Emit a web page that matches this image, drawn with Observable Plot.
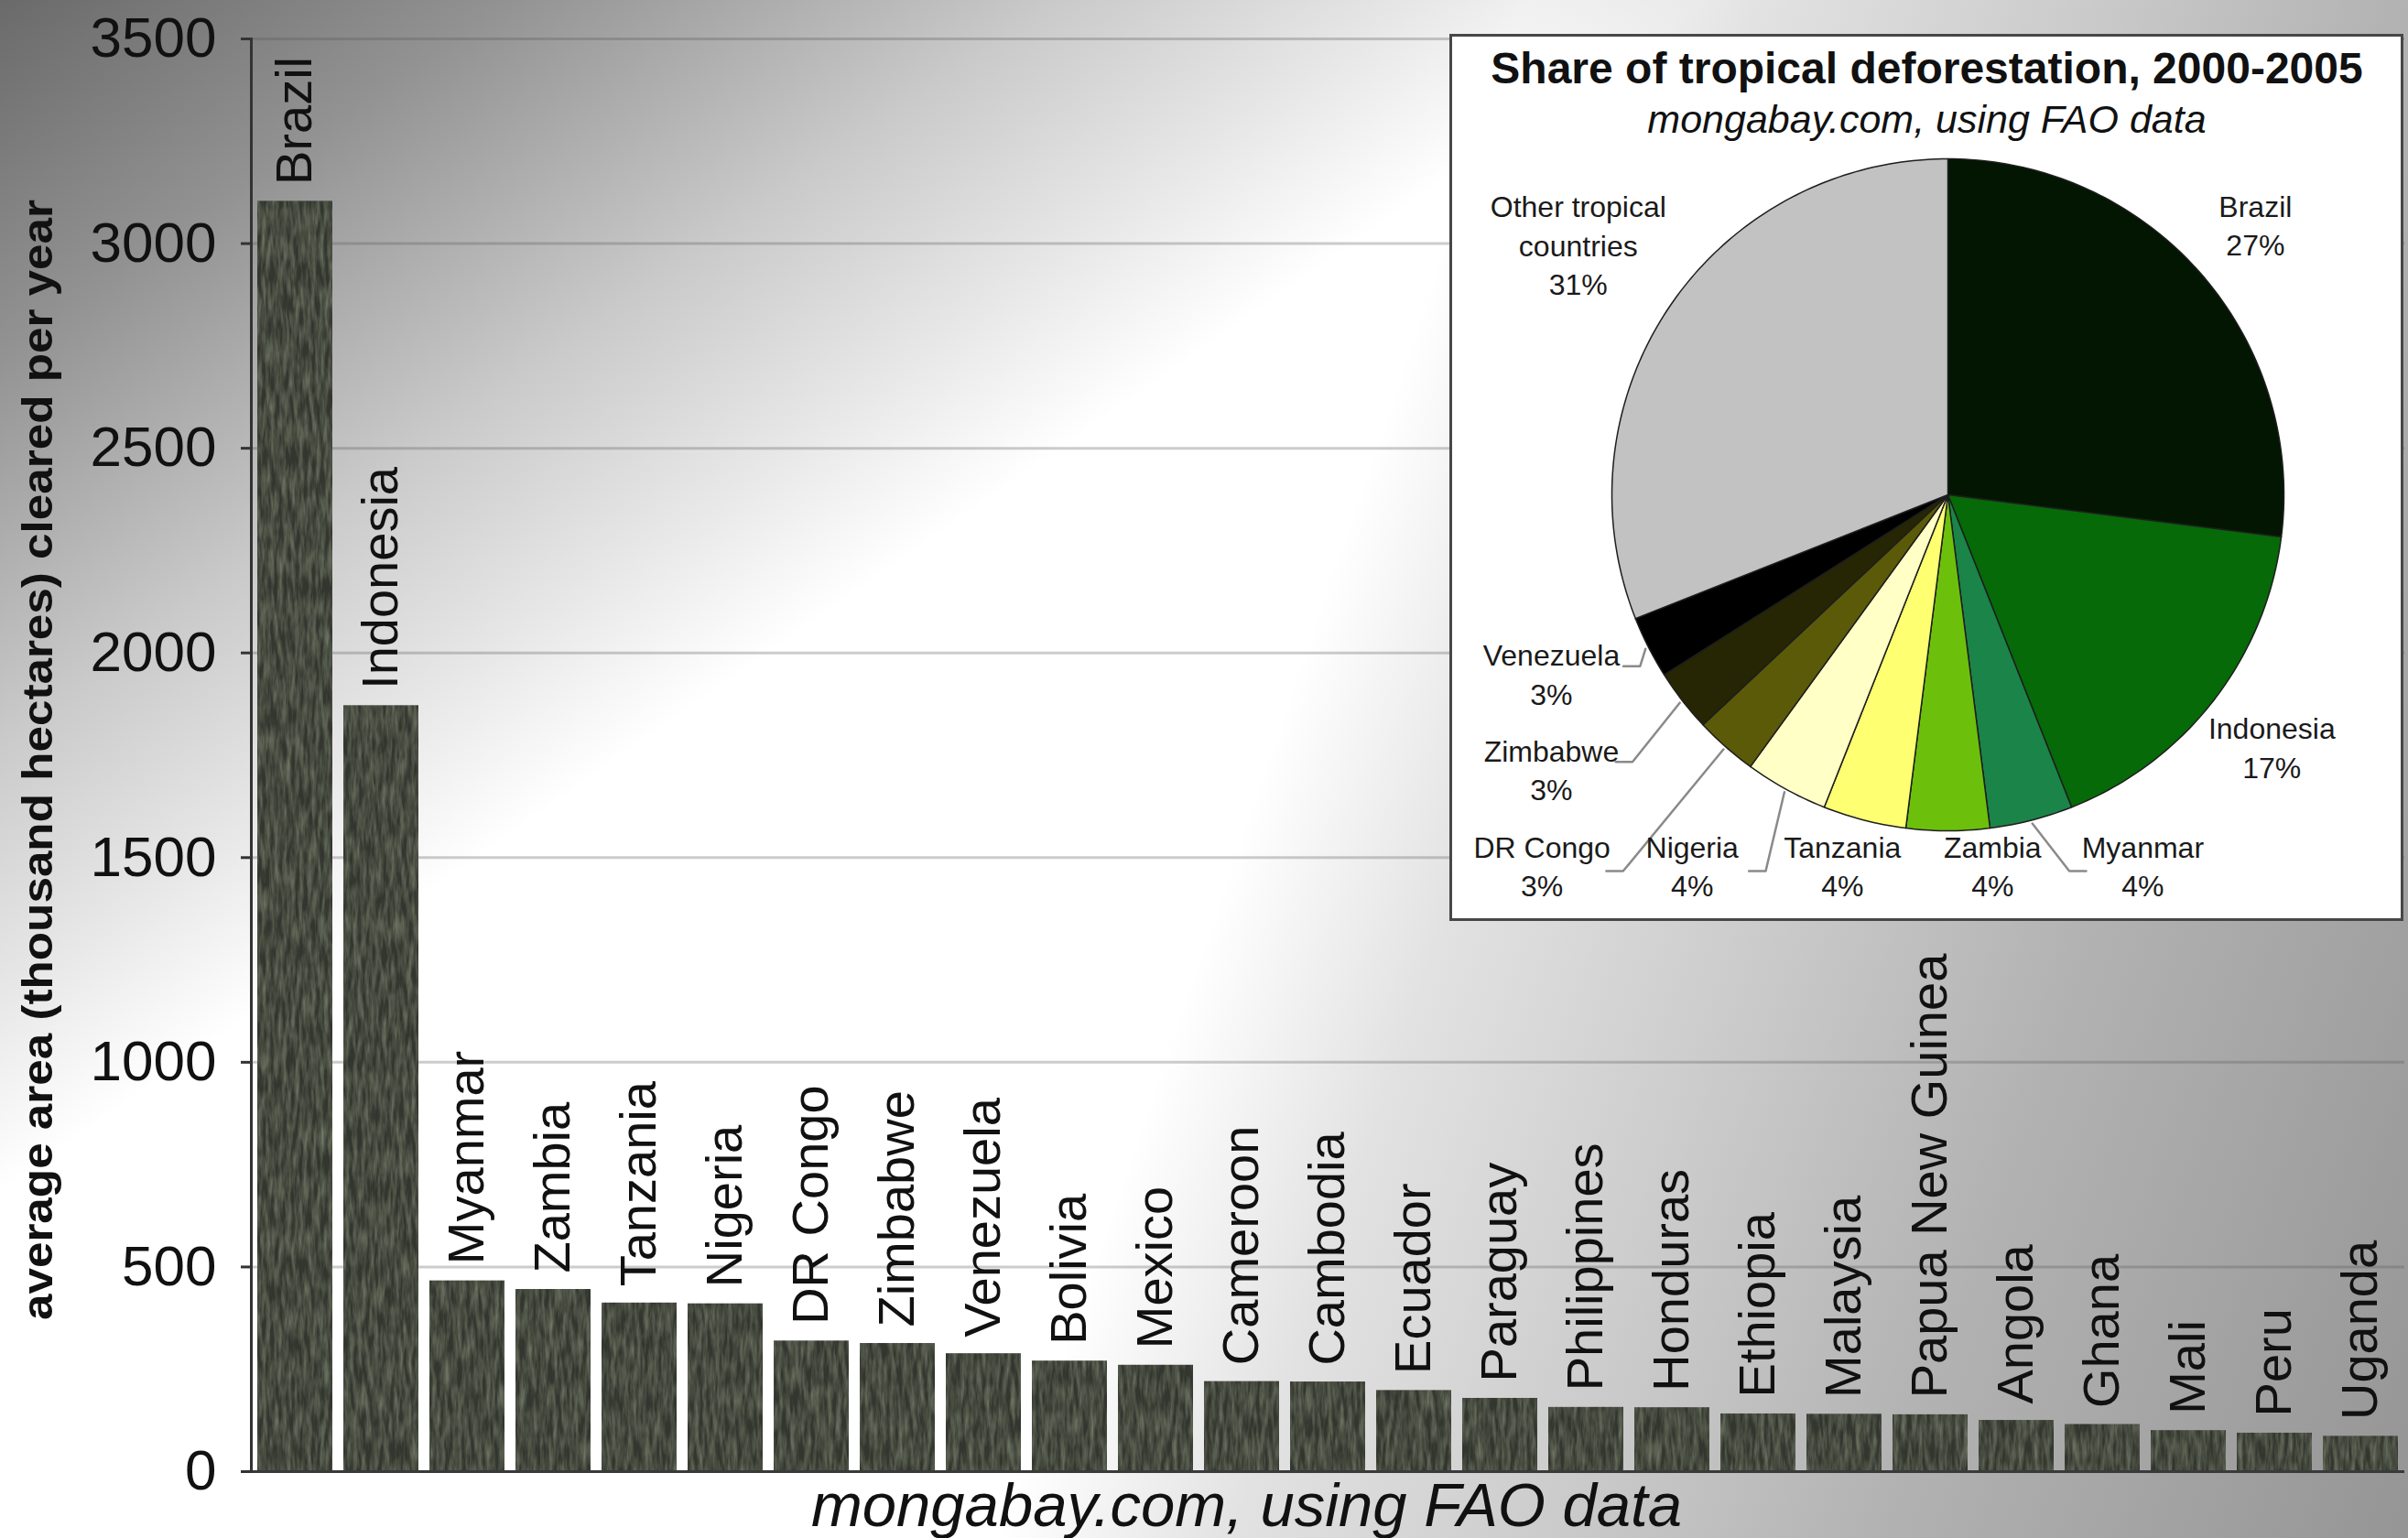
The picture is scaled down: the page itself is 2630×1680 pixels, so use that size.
<!DOCTYPE html>
<html><head><meta charset="utf-8">
<script src="https://cdn.jsdelivr.net/npm/d3@7"></script>
<script src="https://cdn.jsdelivr.net/npm/@observablehq/plot@0.6"></script>
<style>
html,body{margin:0;padding:0;background:#fff;}
#wrap{position:relative;width:2630px;height:1680px;overflow:hidden;font-family:"Liberation Sans",Arial,sans-serif;}
#inset{position:absolute;left:1583px;top:37px;width:1036px;height:963px;border:3px solid #474747;background:#fff;}
#inset svg, #main svg{display:block;}
</style></head><body>
<svg width="0" height="0" style="position:absolute">
<defs>
<filter id="bark" x="0" y="0" width="1" height="1" color-interpolation-filters="sRGB">
  <feTurbulence type="fractalNoise" baseFrequency="0.22 0.035" numOctaves="3" seed="7" result="noise"/>
  <feColorMatrix in="noise" type="matrix" values="0.8 0 0 0 -0.25  0.86 0 0 0 -0.26  0.72 0 0 0 -0.23  0 0 0 0 1" result="tint"/>
  <feComposite in="SourceGraphic" in2="tint" operator="arithmetic" k1="0" k2="1" k3="0.5" k4="0" result="sum"/>
  <feComposite in="sum" in2="SourceAlpha" operator="in"/>
</filter>
</defs></svg>
<div id="wrap"><div id="main"></div><div id="inset"></div></div>
<script>
// ---- data ----
const countries = ["Brazil","Indonesia","Myanmar","Zambia","Tanzania","Nigeria","DR Congo","Zimbabwe","Venezuela","Bolivia","Mexico","Cameroon","Cambodia","Ecuador","Paraguay","Philippines","Honduras","Ethiopia","Malaysia","Papua New Guinea","Angola","Ghana","Mali","Peru","Uganda"];
const cleared = [3103,1871,466,445,412,410,319,313,288,270,260,220,219,198,179,157,156,141,140,139,125,115,100,94,86];
const yTicks = [0,500,1000,1500,2000,2500,3000,3500];
const yTitle = "average area (thousand hectares) cleared per year";
const caption = "mongabay.com, using FAO data";

const pieTitle = "Share of tropical deforestation, 2000-2005";
const pieSubtitle = "mongabay.com, using FAO data";
const pieNames = ["Brazil","Indonesia","Myanmar","Zambia","Tanzania","Nigeria","DR Congo","Zimbabwe","Venezuela","Other tropical countries"];
const pieShares = [27,17,4,4,4,4,3,3,3,31];
const pieColors = ["#021602","#056a07","#1b8448","#6cc00c","#ffff72","#ffffc6","#5b5a08","#262604","#000000","#c2c2c2"];

const font = "'Liberation Sans', Arial, Helvetica, sans-serif";

// ---- main bar chart ----
const data = countries.map((c, i) => ({country: c, value: cleared[i]}));
const bg = "linear-gradient(145deg, rgba(90,90,90,0.9) 0%, rgba(90,90,90,0.66) 11%, rgba(90,90,90,0.32) 23%, rgba(90,90,90,0.14) 31%, rgba(90,90,90,0) 37%), linear-gradient(109deg, #ffffff 0%, #ffffff 52%, #e2e2e2 60%, #cdcdcd 70%, #b2b2b2 82%, #959595 100%)";

const main = Plot.plot({
  width: 2630, height: 1680,
  marginLeft: 274, marginRight: 4, marginTop: 42, marginBottom: 73,
  style: {background: bg, fontFamily: font},
  x: {domain: countries, paddingInner: 0.13, paddingOuter: 0.065, axis: null},
  y: {domain: [0, 3500], axis: null},
  marks: [
    Plot.gridY(yTicks, {stroke: "#555", strokeOpacity: 0.3, strokeWidth: 3}),
    Plot.barY(data, {x: "country", y: "value", fill: "#33352f"}),
    Plot.ruleY([0], {stroke: "#3a3a3a", strokeWidth: 3}),
    Plot.frame({anchor: "left", stroke: "#333", strokeWidth: 3}),
    Plot.axisY(yTicks, {tickSize: 11, tickPadding: 27, fontSize: 62, fill: "#111", stroke: "#333", strokeWidth: 3, label: null, tickFormat: d => String(d)}),
    Plot.text(data, {x: "country", y: "value", text: "country", rotate: -90, textAnchor: "start", dy: -18, fontSize: 56, fill: "#111"}),
    Plot.text([yTitle], {frameAnchor: "left", dx: -232, dy: 5, rotate: -90, textAnchor: "middle", lineAnchor: "middle", fontSize: 46, fontWeight: "bold", fill: "#111"}),
    Plot.text([caption], {frameAnchor: "bottom", dx: -89, dy: 38, textAnchor: "middle", lineAnchor: "middle", fontSize: 66, fontStyle: "italic", fill: "#111"})
  ]
});
const barG = main.querySelector('g[aria-label="bar"]');
if (barG) barG.setAttribute("filter", "url(#bark)");
main.querySelectorAll("text").forEach(t => {
  if (t.textContent === yTitle) { t.setAttribute("textLength", 1224); t.setAttribute("lengthAdjust", "spacingAndGlyphs"); }
  if (t.textContent === caption) { t.setAttribute("textLength", 951); t.setAttribute("lengthAdjust", "spacingAndGlyphs"); }
});
document.getElementById("main").appendChild(main);

// ---- pie inset ----
const pieData = pieNames.map((n, i) => ({name: n, share: pieShares[i], color: pieColors[i]}));
const arcs = d3.pie().sort(null).value(d => d.share)(pieData);
const deg = Math.PI / 180;
const slicePts = [];
arcs.forEach(a => {
  const nm = a.data.name, col = a.data.color;
  slicePts.push({name: nm, color: col, x: 0, y: 0});
  const n = Math.max(2, Math.ceil((a.endAngle - a.startAngle) / deg));
  for (let k = 0; k <= n; k++) {
    const t = a.startAngle + (a.endAngle - a.startAngle) * k / n;
    slicePts.push({name: nm, color: col, x: Math.sin(t), y: -Math.cos(t)});
  }
});

const labFont = 32, rPx = 367;
const lab = arcs.map(a => {
  const m = (a.startAngle + a.endAngle) / 2;
  const rr = a.data.name.length > 12 ? 1.33 : 1.22;
  return {name: a.data.name, share: a.data.share, mid: m, ex: Math.sin(m), ey: -Math.cos(m),
          lx: Math.sin(m) * rr, ly: -Math.cos(m) * rr, kind: "radial"};
});
const bottomRow = lab.filter(d => d.mid > 150 * deg && d.mid < 225 * deg);
bottomRow.forEach((d, i) => { d.lx = 0.58 - 0.447 * i; d.ly = 1.1; d.kind = "bottom"; });
lab.filter(d => d.mid >= 225 * deg && d.mid < 250 * deg).forEach((d, i) => { d.lx = -1.18; d.ly = 1.1 - 0.285 * (i + 1); d.kind = "left"; });

const leaders = [];
lab.forEach(d => {
  if (d.kind === "radial" || Math.abs(d.lx - d.ex) <= 0.25) return;
  const hw = d.name.length * 0.26 * labFont / rPx;
  const s = d.ex > d.lx ? 1 : -1;
  const sx = d.lx + s * (hw + 0.01);
  const sy = d.kind === "bottom" ? d.ly + 0.02 : d.ly - 0.02;
  leaders.push({name: d.name, x: sx, y: sy});
  leaders.push({name: d.name, x: sx + s * 0.05, y: sy});
  leaders.push({name: d.name, x: d.ex * 1.01, y: d.ey * 1.01});
});

const pie = Plot.plot({
  width: 1036, height: 963, margin: 0,
  x: {domain: [-1, 1], range: [174, 908], axis: null},
  y: {domain: [-1, 1], range: [133, 867], axis: null},
  color: {type: "identity"},
  style: {background: "white", fontFamily: font},
  marks: [
    Plot.line(slicePts, {x: "x", y: "y", z: "name", fill: "color", stroke: "#1e1e1e", strokeWidth: 1.5, strokeLinejoin: "round", curve: "linear-closed"}),
    Plot.line(leaders, {x: "x", y: "y", z: "name", stroke: "#8a8a8a", strokeWidth: 2.5}),
    Plot.text(lab, {x: "lx", y: "ly", text: d => d.name + "\n" + d.share + "%", lineWidth: 8, lineHeight: 1.32, fontSize: labFont, fill: "#1a1a1a", textAnchor: "middle"}),
    Plot.text([pieTitle], {frameAnchor: "top", dy: 35, lineAnchor: "middle", fontSize: 48, fontWeight: "bold", fill: "#111"}),
    Plot.text([pieSubtitle], {frameAnchor: "top", dy: 91, lineAnchor: "middle", fontSize: 43, fontStyle: "italic", fill: "#111"})
  ]
});
document.getElementById("inset").appendChild(pie);
</script></body></html>
